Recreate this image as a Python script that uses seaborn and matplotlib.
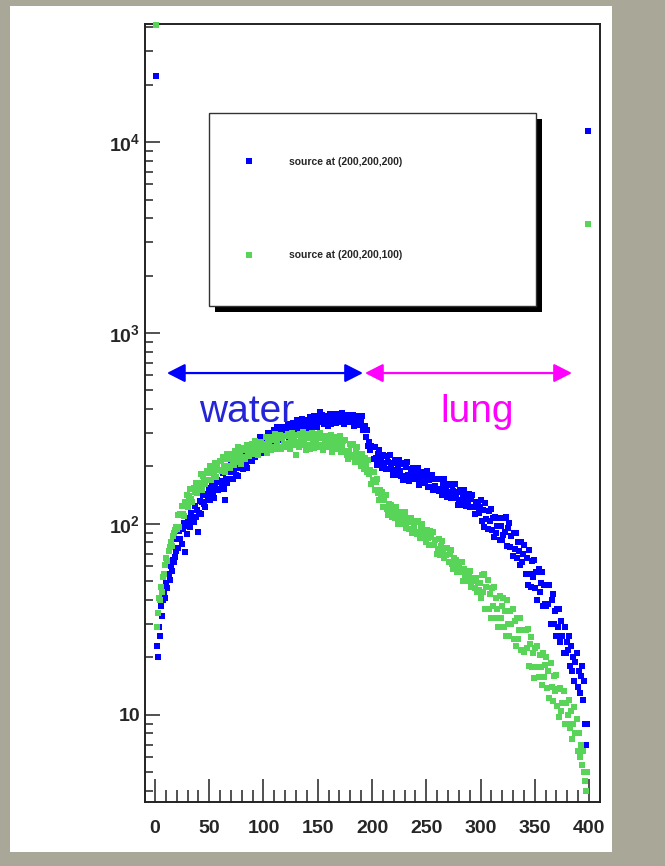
import numpy as np
import pandas as pd
import matplotlib
matplotlib.use("Agg")
from matplotlib import pyplot as plt
from matplotlib.patches import Rectangle
from matplotlib.lines import Line2D
from matplotlib.ticker import FixedLocator, LogLocator, FuncFormatter
import seaborn as sb

# bin centres (1 mm bins from 0 to 400)
bin_x = np.arange(0.5, 400, 1.0)

# counts per bin, source at (200,200,200)
blue_counts = [
    22100, 23, 20, 29, 26, 37, 33, 40, 44, 41, 49, 46, 55, 51, 60, 57, 65, 63, 67, 72,
    83, 75, 92, 83, 79, 94, 101, 71, 98, 89, 107, 100, 96, 114, 109, 103, 124, 109, 119, 91,
    114, 132, 113, 130, 141, 127, 122, 144, 137, 154, 133, 152, 164, 144, 137, 162, 153, 169, 150, 165,
    167, 159, 185, 153, 134, 172, 164, 192, 171, 187, 204, 171, 188, 201, 181, 213, 179, 208, 196, 219,
    219, 195, 232, 210, 197, 231, 248, 218, 237, 214, 255, 236, 224, 267, 253, 238, 284, 249, 270, 236,
    256, 287, 252, 282, 299, 273, 264, 299, 285, 311, 276, 303, 322, 288, 276, 313, 298, 321, 290, 311,
    312, 299, 335, 287, 326, 312, 298, 338, 306, 328, 350, 302, 325, 342, 312, 353, 306, 342, 324, 352,
    350, 316, 361, 330, 312, 351, 369, 329, 350, 320, 365, 341, 388, 371, 353, 334, 368, 342, 362, 324,
    342, 375, 332, 367, 378, 350, 337, 372, 358, 376, 341, 368, 380, 349, 332, 370, 354, 374, 342, 365,
    364, 346, 372, 327, 367, 348, 329, 368, 329, 348, 366, 309, 322, 327, 286, 309, 255, 270, 244, 256,
    252, 218, 252, 221, 203, 233, 244, 209, 222, 197, 229, 209, 194, 227, 210, 195, 229, 196, 209, 180,
    191, 216, 181, 204, 217, 190, 179, 206, 170, 209, 178, 198, 210, 180, 168, 195, 181, 197, 172, 186,
    185, 173, 197, 160, 186, 174, 163, 188, 164, 177, 190, 156, 169, 178, 157, 181, 150, 171, 158, 173,
    171, 149, 173, 153, 141, 162, 171, 146, 156, 138, 162, 147, 137, 160, 148, 137, 161, 138, 147, 126,
    134, 151, 126, 142, 151, 132, 124, 142, 132, 144, 122, 135, 142, 122, 113, 131, 122, 131, 114, 122,
    133, 104, 119, 96, 129, 106, 94, 117, 104, 120, 93, 108, 85, 109, 90, 97, 108, 82, 97, 82,
    88, 108, 91, 109, 77, 95, 101, 76, 87, 68, 90, 74, 90, 66, 80, 72, 61, 80, 63, 70,
    78, 55, 66, 48, 73, 55, 47, 64, 53, 65, 46, 56, 40, 58, 44, 49, 56, 37, 48, 38,
    37, 48, 38, 48, 30, 40, 43, 30, 35, 26, 36, 29, 36, 24, 31, 26, 21, 29, 21, 24,
    22, 26, 18, 23, 17, 20, 15, 19, 21, 14, 17, 13, 16, 18, 12, 15, 9, 7, 9, 11400,
]

# counts per bin, source at (200,200,100)
green_counts = [
    41000, 29, 34, 41, 40, 47, 44, 53, 55, 61, 66, 64, 72, 76, 80, 77, 86, 90, 93, 96,
    94, 111, 96, 113, 124, 113, 110, 130, 125, 141, 123, 140, 153, 135, 130, 154, 147, 163, 146, 160,
    163, 156, 182, 150, 179, 170, 162, 190, 169, 185, 202, 169, 186, 199, 179, 209, 177, 204, 192, 214,
    214, 190, 225, 201, 188, 218, 233, 202, 219, 197, 233, 215, 203, 240, 226, 212, 252, 219, 237, 206,
    224, 249, 219, 243, 258, 234, 226, 255, 242, 263, 233, 256, 271, 242, 231, 262, 249, 268, 243, 260,
    262, 248, 285, 234, 274, 259, 245, 285, 252, 274, 296, 246, 268, 284, 253, 293, 246, 281, 263, 290,
    288, 253, 296, 265, 246, 284, 300, 260, 279, 230, 293, 269, 252, 296, 277, 258, 304, 263, 282, 244,
    260, 295, 248, 281, 300, 264, 250, 288, 269, 295, 252, 282, 301, 259, 243, 284, 265, 288, 253, 274,
    273, 257, 294, 239, 279, 262, 246, 284, 249, 269, 289, 238, 258, 271, 240, 276, 229, 218, 241, 263,
    259, 225, 262, 231, 212, 242, 253, 216, 228, 201, 233, 210, 193, 222, 204, 186, 215, 182, 192, 162,
    169, 186, 151, 165, 171, 146, 134, 151, 137, 147, 123, 134, 141, 120, 111, 127, 117, 125, 109, 117,
    116, 108, 123, 100, 116, 108, 100, 116, 101, 108, 115, 95, 102, 107, 94, 108, 90, 102, 95, 104,
    103, 89, 104, 91, 84, 96, 100, 86, 91, 80, 93, 84, 78, 92, 85, 78, 91, 78, 82, 70,
    74, 83, 69, 77, 81, 71, 66, 75, 69, 75, 63, 70, 73, 62, 58, 66, 61, 65, 56, 60,
    59, 56, 63, 50, 58, 54, 50, 57, 50, 54, 57, 47, 50, 52, 46, 52, 44, 49, 45, 49,
    41, 54, 44, 55, 36, 47, 51, 36, 43, 32, 46, 37, 47, 32, 41, 36, 29, 42, 32, 37,
    41, 29, 35, 26, 40, 30, 26, 35, 30, 36, 25, 31, 23, 32, 25, 28, 32, 22, 28, 22,
    21.3, 27.8, 22.3, 28.1, 18, 23.5, 25.6, 17.9, 21.1, 15.6, 22.4, 17.9, 23, 15.8, 20.5, 17.8, 14.4, 21, 15.8, 18.3,
    20, 13.9, 17, 12.3, 18.8, 14, 11.8, 15.9, 13.4, 16.1, 11.2, 13.6, 9.7, 13.8, 10.5, 11.6, 13.4, 9, 11.6, 9,
    10, 12, 8.5, 10.5, 7.5, 9, 11, 8, 9.5, 6.5, 8, 6, 7, 5.5, 6.5, 5, 4.5, 4, 5, 3720,
]

labels = ["source at (200,200,200)", "source at (200,200,100)"]
colors = ["#0000ff", "#58d458"]

# regions marked above the curves
regions = ["water", "lung"]
region_span = [(11.0, 191.7), (193.5, 384.3)]
region_colors = ["#0000ff", "#ff00ff"]
region_text_colors = ["#2424d8", "#ff00ff"]
region_text_x = [40.6, 262.7]

x_major = [0, 50, 100, 150, 200, 250, 300, 350, 400]

sb.set_style("ticks")
plt.rcParams["font.family"] = ["Liberation Sans", "DejaVu Sans"]
plt.rcParams["mathtext.fontset"] = "custom"
plt.rcParams["mathtext.rm"] = "Liberation Sans"
plt.rcParams["mathtext.bf"] = "Liberation Sans:bold"

W, H = 665, 866
fig = plt.figure(figsize=(W / 100, H / 100), dpi=100)
fig.patch.set_facecolor("#a9a898")
# white canvas
fig.patches.append(Rectangle((10 / W, (H - 852) / H), 602 / W, 846 / H,
                             transform=fig.transFigure, facecolor="white",
                             edgecolor="none", zorder=-1))

ax = fig.add_axes([145 / W, (H - 802) / H, 455 / W, 778 / H])
ax.set_facecolor("white")

df = pd.DataFrame({
    "x": np.concatenate([bin_x, bin_x]),
    "counts": blue_counts + green_counts,
    "source": [labels[0]] * len(bin_x) + [labels[1]] * len(bin_x),
})

for lab, col in zip(labels, colors):
    sb.scatterplot(data=df[df["source"] == lab], x="x", y="counts", color=col,
                   marker="s", s=21, linewidth=0, ax=ax, legend=False,
                   clip_on=False, zorder=3)

ax.set_yscale("log")
ax.set_xlim(-9.2, 410.1)
ax.set_ylim(3.5, 41500)

# axis frame and ticks
for sp in ax.spines.values():
    sp.set_linewidth(1.4)
    sp.set_color("#222222")

ax.xaxis.set_major_locator(FixedLocator(x_major))
ax.xaxis.set_minor_locator(FixedLocator(list(range(0, 401, 10))))
ax.yaxis.set_major_locator(LogLocator(base=10, numticks=10))
ax.yaxis.set_minor_locator(LogLocator(base=10, subs=np.arange(2, 10), numticks=20))


def ylab(v, pos):
    e = int(round(np.log10(v)))
    if e == 1:
        return "10"
    return r"$\mathbf{10^{%d}}$" % e


ax.yaxis.set_major_formatter(FuncFormatter(ylab))
ax.tick_params(which="both", direction="in", top=False, right=False,
               width=1.1, color="#222222")
ax.tick_params(axis="x", which="major", length=16.5, pad=13, labelsize=14)
ax.tick_params(axis="x", which="minor", length=8.5)
ax.tick_params(axis="y", which="major", length=10.8, pad=3.5, labelsize=14)
ax.tick_params(axis="y", which="minor", length=5.8)
for t in ax.get_xticklabels() + ax.get_yticklabels():
    t.set_fontweight("bold")
ax.set_xlabel("")
ax.set_ylabel("")

# region arrows and names
for name, (x0, x1), ac, tc, tx in zip(regions, region_span, region_colors,
                                      region_text_colors, region_text_x):
    ax.annotate("", xy=(x0, 617), xytext=(x1, 617),
                arrowprops=dict(arrowstyle="<|-|>,head_length=0.55,head_width=0.28",
                                color=ac, lw=1.6, mutation_scale=20,
                                shrinkA=0, shrinkB=0))
    ax.text(tx, 342, name, color=tc, fontsize=28, va="baseline", ha="left")

# legend box with ROOT style shadow
bx0, bx1 = (209 - 145) / 455, (536 - 145) / 455
by0, by1 = (802 - 306) / 778, (802 - 113) / 778
ax.add_patch(Rectangle((bx0 + 6 / 455, by0 - 6 / 778), bx1 - bx0, by1 - by0,
                       transform=ax.transAxes, facecolor="black",
                       edgecolor="none", zorder=4.8))
ax.add_patch(Rectangle((bx0, by0), bx1 - bx0, by1 - by0,
                       transform=ax.transAxes, facecolor="white",
                       edgecolor="#333333", lw=1.0, zorder=4.9))

handles = [Line2D([], [], ls="", marker="s", markersize=4.3, color=c,
                  markeredgewidth=0) for c in colors]
leg = ax.legend(handles, labels, loc="center left",
                bbox_to_anchor=((238.6 - 145) / 455, (802 - 208.5) / 778),
                frameon=False, borderpad=0, borderaxespad=0,
                handlelength=2.0, handletextpad=2.85, labelspacing=8.0,
                prop={"size": 7.5, "weight": "bold"})
leg.set_zorder(5)

plt.savefig("out.png", dpi=100)
plt.close()
